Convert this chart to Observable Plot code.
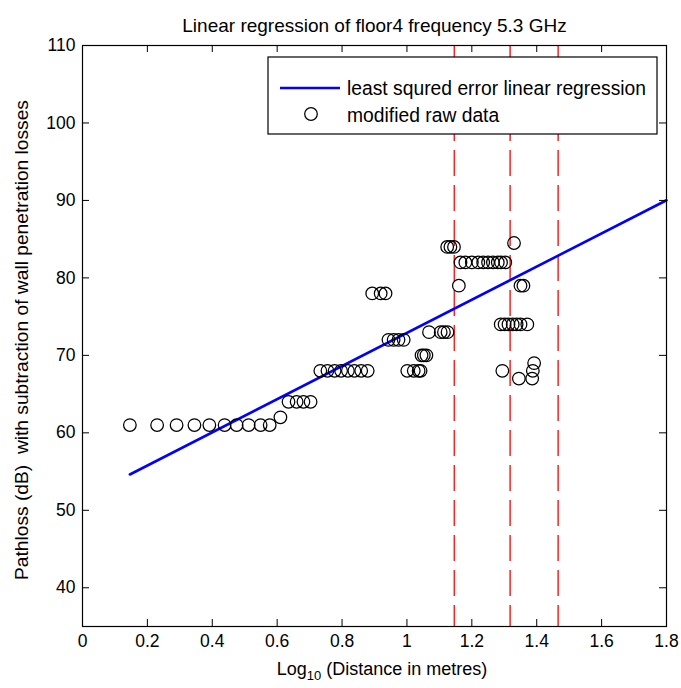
<!DOCTYPE html>
<html>
<head>
<meta charset="utf-8">
<script src="https://cdn.jsdelivr.net/npm/d3@7"></script>
<script src="https://cdn.jsdelivr.net/npm/@observablehq/plot@0.6"></script>
<style>
  html, body { margin: 0; padding: 0; background: #fff; }
  svg text { font-family: "Liberation Sans", Arial, sans-serif; }
</style>
</head>
<body>
<div id="chart"></div>
<script>
// ---- data ----
const chartTitle = "Linear regression of floor4 frequency 5.3 GHz";
const yLabel = "Pathloss (dB)  with subtraction of wall penetration losses";
const legendLabels = ["least squred error linear regression", "modified raw data"];

const rawX = [
  0.146, 0.230, 0.290, 0.345, 0.391, 0.438, 0.475, 0.512, 0.549, 0.577,
  0.610,
  0.635, 0.660, 0.681, 0.703,
  0.733, 0.755, 0.777, 0.797, 0.818, 0.838, 0.859, 0.879,
  0.893, 0.919, 0.934,
  0.943, 0.959, 0.974, 0.990,
  1.001, 1.021, 1.036, 1.042,
  1.045, 1.052, 1.060,
  1.068, 1.104, 1.114, 1.125,
  1.124, 1.134, 1.145,
  1.160,
  1.165, 1.180, 1.200, 1.220, 1.235, 1.250, 1.265, 1.280, 1.290, 1.303,
  1.330,
  1.350, 1.359,
  1.289, 1.301, 1.313, 1.326, 1.338, 1.350, 1.371,
  1.294, 1.345, 1.386, 1.388, 1.392
];
const rawY = [
  61, 61, 61, 61, 61, 61, 61, 61, 61, 61,
  62,
  64, 64, 64, 64,
  68, 68, 68, 68, 68, 68, 68, 68,
  78, 78, 78,
  72, 72, 72, 72,
  68, 68, 68, 68,
  70, 70, 70,
  73, 73, 73, 73,
  84, 84, 84,
  79,
  82, 82, 82, 82, 82, 82, 82, 82, 82, 82,
  84.5,
  79, 79,
  74, 74, 74, 74, 74, 74, 74,
  68, 67, 67, 68, 69
];

// regression line
const regIntercept = 51.5;
const regSlope = 21.4;
const regXRange = [0.146, 1.8];

const boundaryX = [1.146, 1.318, 1.466];

const xTicks = [0, 0.2, 0.4, 0.6, 0.8, 1, 1.2, 1.4, 1.6, 1.8];
const yTicks = [40, 50, 60, 70, 80, 90, 100, 110];

// ---- build ----
const points = rawX.map((x, i) => ({x, y: rawY[i]}));
const regLine = regXRange.map(x => ({x, y: regIntercept + regSlope * x}));

const W = 681, H = 688;
const mL = 82, mR = 15, mT = 45, mB = 62;
const innerH = H - mT - mB, innerW = W - mL - mR;
const tickLen = 7;

const plot = Plot.plot({
  width: W,
  height: H,
  marginLeft: mL,
  marginRight: mR,
  marginTop: mT,
  marginBottom: mB,
  style: {fontFamily: '"Liberation Sans", Arial, sans-serif', fontSize: "17px", background: "#fff", color: "#000"},
  x: {domain: [0, 1.8]},
  y: {domain: [35, 110]},
  marks: [
    Plot.ruleX(boundaryX, {x: d => d, stroke: "#ff2020", strokeWidth: 1.5, strokeDasharray: "26,9"}),
    Plot.line(regLine, {x: "x", y: "y", stroke: "#0000ff", strokeWidth: 2.6}),
    Plot.dot(points, {x: "x", y: "y", r: 6.3, stroke: "#000", strokeWidth: 1.25, fill: "none"}),
    // inward ticks
    Plot.ruleX(xTicks, {x: d => d, insetTop: innerH - tickLen, stroke: "#000"}),
    Plot.ruleX(xTicks, {x: d => d, insetBottom: innerH - tickLen, stroke: "#000"}),
    Plot.ruleY(yTicks, {y: d => d, insetRight: innerW - tickLen, stroke: "#000"}),
    Plot.ruleY(yTicks, {y: d => d, insetLeft: innerW - tickLen, stroke: "#000"}),
    Plot.axisX(xTicks, {anchor: "bottom", tickSize: 0, tickPadding: 8, label: null, tickFormat: d => String(d), fontSize: 17.5}),
    Plot.axisY(yTicks, {anchor: "left", tickSize: 0, tickPadding: 7, label: null, fontSize: 17.5}),
    Plot.frame({stroke: "#000", strokeWidth: 1.2}),
    Plot.text([chartTitle], {frameAnchor: "top", dy: -27, text: d => d, fontSize: 19, fill: "#000"}),
    Plot.text([yLabel], {frameAnchor: "left", textAnchor: "middle", dx: -61, dy: 4, rotate: -90, text: d => d, fontSize: 19.2, fill: "#000"})
  ]
});

document.getElementById("chart").appendChild(plot);

// x label with subscript
const svg = d3.select(plot);
const xl = svg.append("text")
  .attr("x", mL + innerW / 2 + 8)
  .attr("y", H - 13)
  .attr("text-anchor", "middle")
  .attr("font-size", 18)
  .attr("fill", "#000");
xl.append("tspan").text("Log");
xl.append("tspan").attr("font-size", 13).attr("dy", 5).text("10");
xl.append("tspan").attr("dy", -5).text(" (Distance in metres)");

// legend box
const lg = svg.append("g").attr("text-anchor", "start");
lg.append("rect").attr("x", 268).attr("y", 57).attr("width", 389).attr("height", 77)
  .attr("fill", "#fff").attr("stroke", "#000").attr("stroke-width", 1.2);
lg.append("line").attr("x1", 280).attr("x2", 340).attr("y1", 88).attr("y2", 88)
  .attr("stroke", "#0000ff").attr("stroke-width", 2.6);
lg.append("circle").attr("cx", 311).attr("cy", 114).attr("r", 6.3)
  .attr("fill", "none").attr("stroke", "#000").attr("stroke-width", 1.25);
lg.append("text").attr("x", 347).attr("y", 88).attr("dy", "0.35em").attr("text-anchor", "start")
  .attr("font-size", 19.3).attr("fill", "#000").text(legendLabels[0]);
lg.append("text").attr("x", 347).attr("y", 115).attr("dy", "0.35em").attr("text-anchor", "start")
  .attr("font-size", 19.3).attr("fill", "#000").text(legendLabels[1]);
</script>
</body>
</html>
